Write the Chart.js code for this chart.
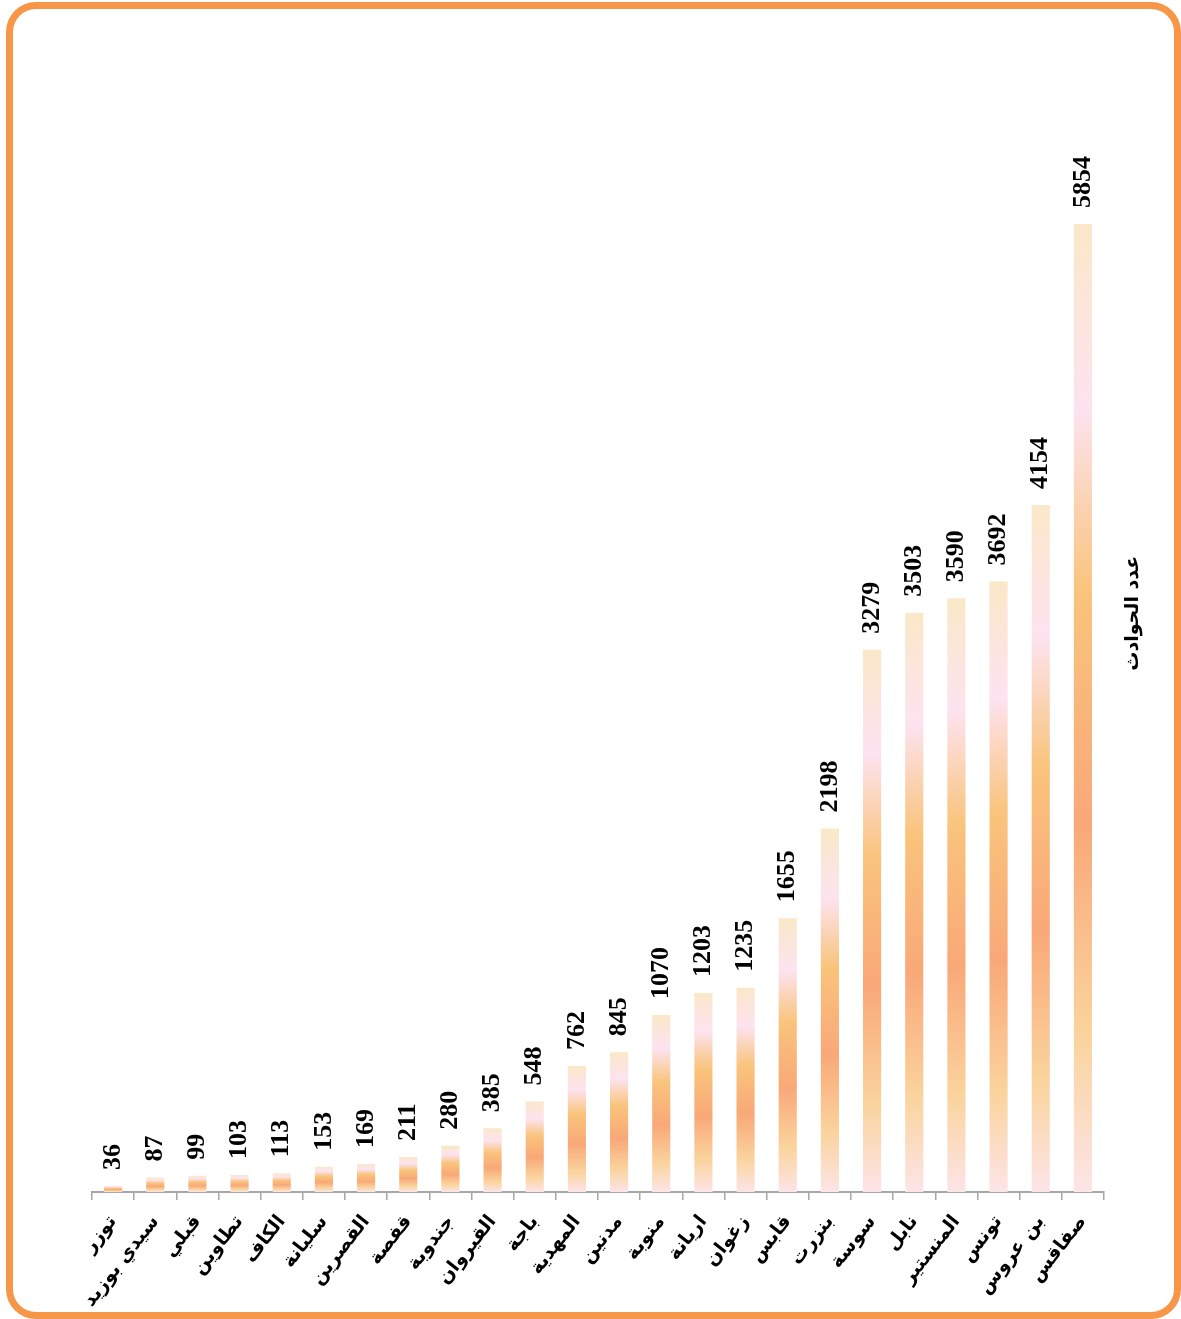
<!DOCTYPE html>
<html lang="ar">
<head>
<meta charset="utf-8">
<title>عدد الحوادث</title>
<script src="https://cdn.jsdelivr.net/npm/chart.js@4.4.1/dist/chart.umd.min.js"></script>
<style>
  html, body { margin: 0; padding: 0; background: #fff; }
  #wrap { position: relative; width: 1181px; height: 1319px; overflow: hidden; }
  #chart { position: absolute; left: 0; top: 0; }
  #frame {
    position: absolute; left: 6px; top: 2px; right: 0; bottom: 0;
    border: 7px solid #F79646; border-radius: 30px; box-sizing: border-box;
    pointer-events: none;
  }
</style>
</head>
<body>
<div id="wrap">
  <canvas id="chart" width="1181" height="1319"></canvas>
  <div id="frame"></div>
</div>
<script>
// الولايات وعدد الحوادث
const governorates = [
  'توزر', 'سيدي بوزيد', 'قبلي', 'تطاوين', 'الكاف', 'سليانة', 'القصرين', 'قفصة',
  'جندوبة', 'القيروان', 'باجة', 'المهدية', 'مدنين', 'منوبة', 'اريانة', 'زغوان',
  'قابس', 'بنزرت', 'سوسة', 'نابل', 'المنستير', 'تونس', 'بن عروس', 'صفاقس'
];
const accidents = [
  36, 87, 99, 103, 113, 153, 169, 211,
  280, 385, 548, 762, 845, 1070, 1203, 1235,
  1655, 2198, 3279, 3503, 3590, 3692, 4154, 5854
];
const seriesName = 'عدد الحوادث';
const yMin = 0;
const yMax = 7000;

const arabicFont = '"DejaVu Sans", sans-serif';

// تدرج لوني لكل عمود
function barGradient(context) {
  const chart = context.chart;
  const yScale = chart.scales.y;
  if (!yScale || context.raw == null) return '#F9C27C';
  const top = yScale.getPixelForValue(context.raw);
  const base = yScale.getPixelForValue(0);
  if (!isFinite(top) || !isFinite(base) || top === base) return '#F9C27C';
  const g = chart.ctx.createLinearGradient(0, top, 0, base);
  g.addColorStop(0, '#FAE8C8');
  g.addColorStop(0.19, '#FDE3F0');
  g.addColorStop(0.38, '#F9C47C');
  g.addColorStop(0.62, '#F9A878');
  g.addColorStop(0.84, '#FAD49E');
  g.addColorStop(1, '#FDE4E8');
  return g;
}

// كتابة القيم فوق الأعمدة
const valueLabels = {
  id: 'valueLabels',
  afterDatasetsDraw(chart) {
    const ctx = chart.ctx;
    const meta = chart.getDatasetMeta(0);
    ctx.save();
    ctx.font = 'bold 26px "Liberation Serif", "Times New Roman", serif';
    ctx.fillStyle = '#000';
    ctx.textAlign = 'left';
    ctx.textBaseline = 'middle';
    meta.data.forEach(function(bar, i) {
      ctx.save();
      ctx.translate(bar.x, bar.y - 16);
      ctx.rotate(-Math.PI / 2);
      ctx.fillText(String(accidents[i]), 0, 0);
      ctx.restore();
    });
    ctx.restore();
  }
};

// وسيلة الإيضاح على اليمين (نص عمودي)
const sideLegend = {
  id: 'sideLegend',
  afterDraw(chart) {
    const ctx = chart.ctx;
    const area = chart.chartArea;
    ctx.save();
    ctx.translate(area.right + 29, (area.top + area.bottom) / 2);
    ctx.rotate(-Math.PI / 2);
    ctx.font = 'bold 19px ' + arabicFont;
    ctx.fillStyle = '#000';
    ctx.textAlign = 'center';
    ctx.textBaseline = 'middle';
    ctx.fillText(seriesName, 0, 0);
    ctx.restore();
  }
};

document.addEventListener('DOMContentLoaded', function() {
  new Chart(document.getElementById('chart').getContext('2d'), {
    type: 'bar',
    data: {
      labels: governorates,
      datasets: [{
        label: seriesName,
        data: accidents,
        backgroundColor: barGradient,
        borderWidth: 0,
        barPercentage: 0.43,
        categoryPercentage: 1
      }]
    },
    options: {
      responsive: false,
      animation: false,
      layout: { padding: { left: 92, top: 34.5, right: 0, bottom: 0 } },
      plugins: {
        legend: { display: false },
        tooltip: { enabled: false }
      },
      scales: {
        x: {
          grid: {
            display: true,
            drawOnChartArea: false,
            drawTicks: true,
            tickLength: 8,
            color: '#A6A6A6',
            lineWidth: 1.5
          },
          border: { display: true, color: '#A6A6A6', width: 2 },
          ticks: {
            autoSkip: false,
            minRotation: 52,
            maxRotation: 52,
            padding: 12,
            color: '#000',
            font: { family: arabicFont, size: 19, weight: 'bold', lineHeight: 1.05 }
          },
          afterFit: function(scale) { scale.height = 127; }
        },
        y: {
          position: 'right',
          min: yMin,
          max: yMax,
          ticks: { display: false },
          grid: { display: false },
          border: { display: false },
          afterFit: function(scale) { scale.width = 77; }
        }
      }
    },
    plugins: [valueLabels, sideLegend]
  });
});
</script>
</body>
</html>
